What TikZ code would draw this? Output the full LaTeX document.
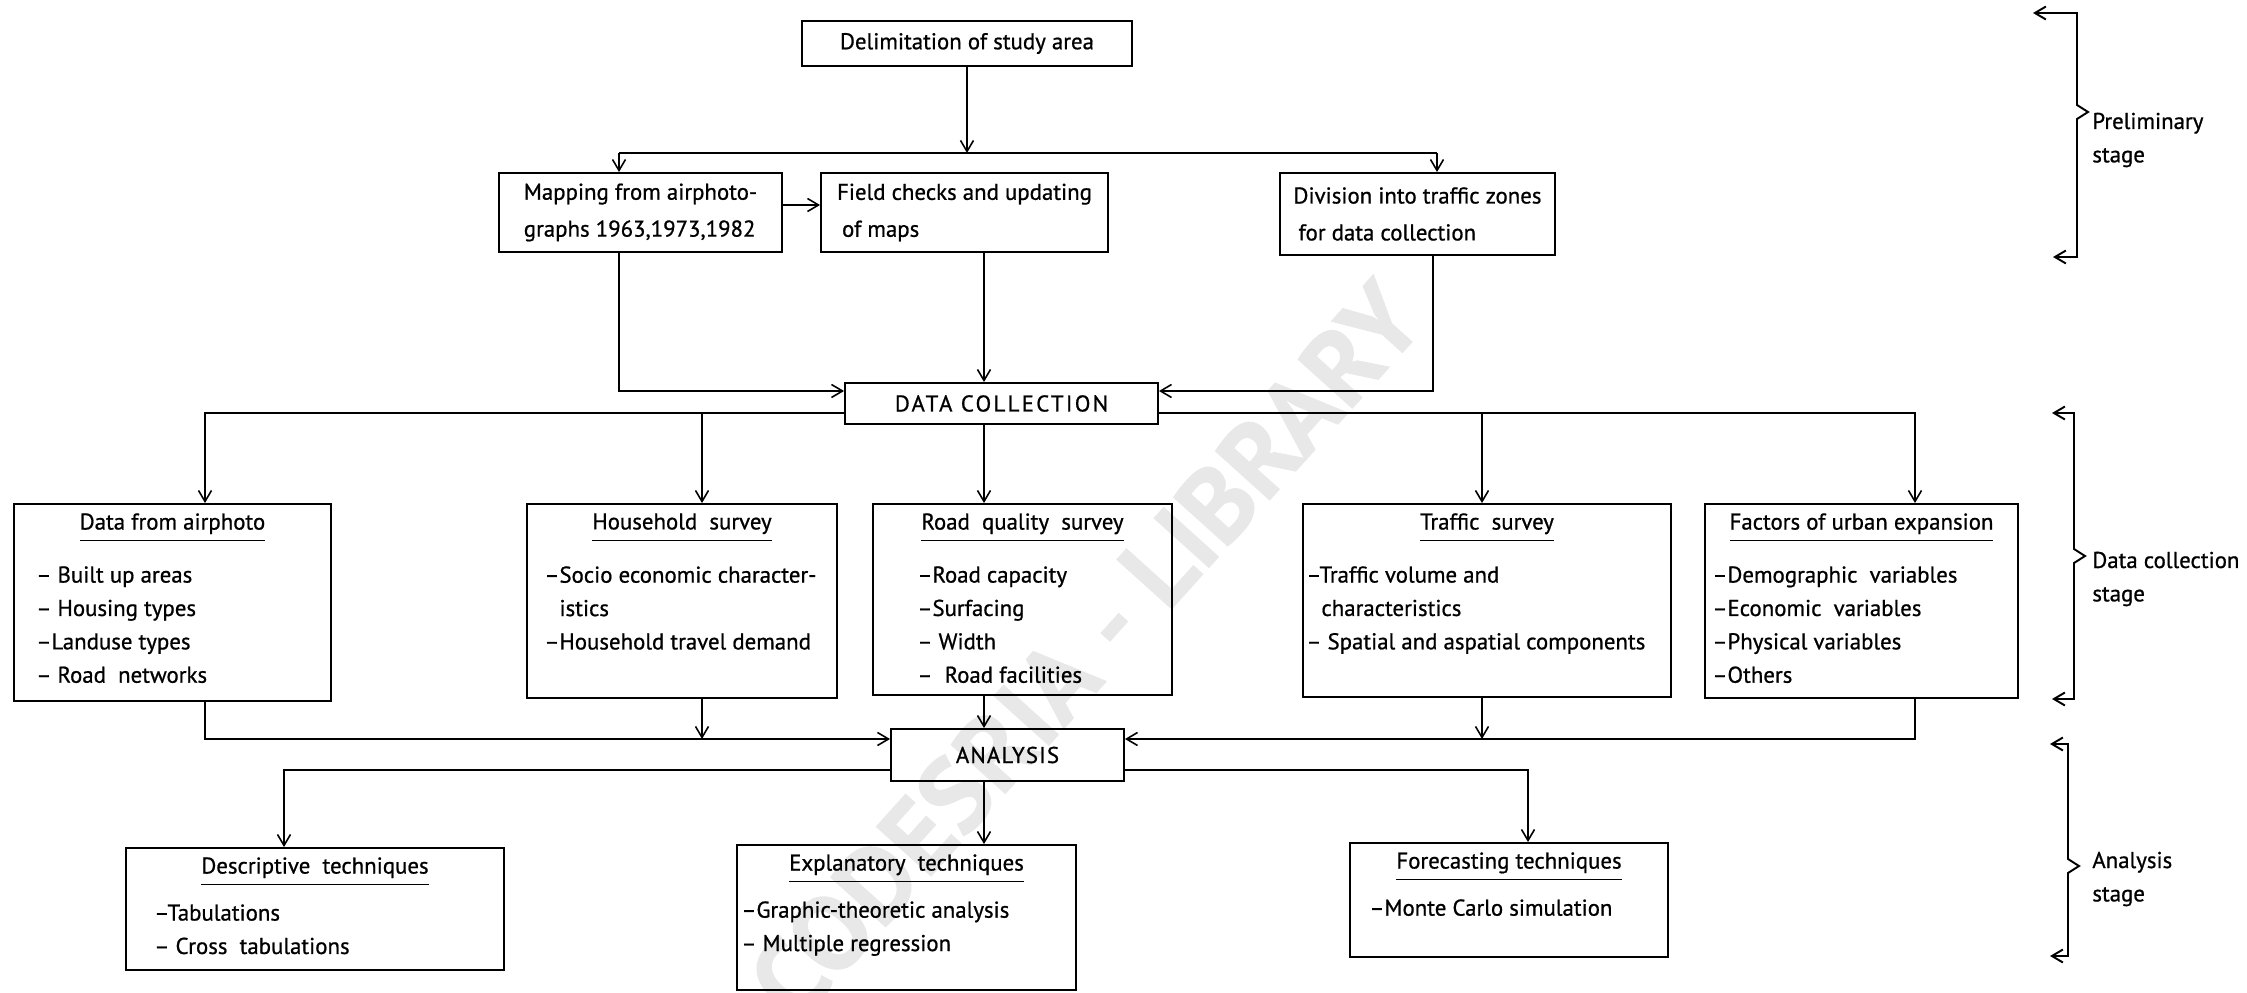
\documentclass[tikz,border=0pt]{standalone}
\usepackage{fontspec}
\setmainfont{PT Sans}[FakeBold=0.8]
\usetikzlibrary{positioning, arrows.meta, fit}

% underlined box headings
\newcommand{\hd}[1]{\underline{\rule[-5pt]{0pt}{5pt}#1}}

\begin{document}
\begin{tikzpicture}[
    x=0.2mm, y=-0.2mm,
    every node/.style={font=\fontsize{13}{19}\selectfont},
    box/.style={draw, line width=1.1pt, inner sep=0pt},
    head/.style={inner sep=0pt},
    items/.style={align=left, inner sep=0pt},
    arrow/.style={-{Straight Barb[length=2.2mm,width=2.6mm]}, line width=0.9pt},
    link/.style={line width=0.9pt},
    bracket/.style={{Straight Barb[length=2.2mm,width=2.6mm]}-{Straight Barb[length=2.2mm,width=2.6mm]}, line width=1.1pt},
    stage/.style={align=left, anchor=west, inner sep=0pt}
]
\useasboundingbox (0,0) rectangle (2247,993);

% watermark
\node[rotate=48, text=black!9, font=\fontsize{60}{60}\selectfont\bfseries] (mark) at (1085,650) {CODESRIA - LIBRARY};

% bus lines
\coordinate (top-bus) at (0,153);
\coordinate (dc-in) at (0,391);
\coordinate (dc-bus) at (0,413);
\coordinate (an-in) at (0,739);
\coordinate (an-bus) at (0,770);
\coordinate (dc-x) at (984,0);

% preliminary stage
\node[box, minimum width=66mm, minimum height=9mm] (delim) at (967,43.5) {Delimitation of study area};
\node[box, minimum width=56.6mm, minimum height=15.8mm, align=left] (map) at (640.5,212.5) {Mapping from airphoto-\\[2pt]graphs 1963,1973,1982};
\node[box, minimum width=57.4mm, minimum height=15.8mm, align=left] (field) at (964.5,212.5) {Field checks and updating\\[2pt]\hspace{1mm}of maps};
\node[box, minimum width=55mm, minimum height=16.4mm, align=left] (div) at (1417.5,214) {Division into traffic zones\\[2pt]\hspace{1mm}for data collection};

\node[box, minimum width=62.6mm, minimum height=8.2mm] (dc) at (1001.5,403.5) {\addfontfeature{LetterSpace=10}DATA COLLECTION};

\draw[arrow] (delim.south) -- (delim.south |- top-bus);
\draw[link] (top-bus -| 619,0) -- (top-bus -| 1437,0);
\draw[arrow] (top-bus -| 619,0) -- (map.north -| 619,0);
\draw[arrow] (top-bus -| 1437,0) -- (div.north -| 1437,0);
\draw[arrow] (map.east |- 0,205) -- (field.west |- 0,205);
\draw[arrow] (map.south -| 619,0) |- (dc.west |- dc-in);
\draw[arrow] (field.south -| dc-x) -- (dc.north -| dc-x);
\draw[arrow] (div.south -| 1433,0) |- (dc.east |- dc-in);

% data collection stage
\node[box, fit={(14,504)(331,701)}] (air) {};
\node[head, below=2mm of air.north] (air-h) {\hd{Data from airphoto}};
\node[items, below right=12.6mm and 4.6mm of air.north west] (air-l) {– Built up areas\\– Housing types\\–Landuse types\\– Road\ \ networks};

\node[box, fit={(527,504)(837,698)}] (hh) {};
\node[head, below=2mm of hh.north] (hh-h) {\hd{Household\ \ survey}};
\node[items, below right=12.6mm and 3.6mm of hh.north west] (hh-l) {–Socio economic character-\\\phantom{–}istics\\–Household travel demand};

\node[box, fit={(873,504)(1172,695)}] (road) {};
\node[head, below=2mm of road.north] (road-h) {\hd{Road\ \ quality\ \ survey}};
\node[items, below right=12.6mm and 9mm of road.north west] (road-l) {–Road capacity\\–Surfacing\\– Width\\–\ \ Road facilities};

\node[box, fit={(1303,504)(1671,697)}] (traf) {};
\node[head, below=2mm of traf.north] (traf-h) {\hd{Traffic\ \ survey}};
\node[items, below right=12.6mm and 0.8mm of traf.north west] (traf-l) {–Traffic volume and\\\phantom{–}characteristics\\– Spatial and aspatial components};

\node[box, fit={(1705,504)(2018,698)}] (fac) {};
\node[head, below=2mm of fac.north] (fac-h) {\hd{Factors of urban expansion}};
\node[items, below right=12.6mm and 1.6mm of fac.north west] (fac-l) {–Demographic\ \ variables\\–Economic\ \ variables\\–Physical variables\\–Others};

\node[box, minimum width=46.6mm, minimum height=10.4mm] (ana) at (1007.5,755) {\addfontfeature{LetterSpace=5}ANALYSIS};

\draw[arrow] (dc.west |- dc-bus) -| (air.north -| 205,0);
\draw[arrow] (dc.east |- dc-bus) -| (fac.north -| 1915,0);
\draw[arrow] (dc-bus -| 702,0) -- (hh.north -| 702,0);
\draw[arrow] (dc.south -| dc-x) -- (road.north -| dc-x);
\draw[arrow] (dc-bus -| 1482,0) -- (traf.north -| 1482,0);

\draw[arrow] (air.south -| 205,0) |- (ana.west |- an-in);
\draw[arrow] (fac.south -| 1915,0) |- (ana.east |- an-in);
\draw[arrow] (hh.south -| 702,0) -- (an-in -| 702,0);
\draw[arrow] (traf.south -| 1482,0) -- (an-in -| 1482,0);
\draw[arrow] (road.south -| dc-x) -- (ana.north -| dc-x);

% analysis stage
\node[box, fit={(126,848)(504,970)}] (desc) {};
\node[head, below=2mm of desc.north] (desc-h) {\hd{Descriptive\ \ techniques}};
\node[items, below right=11.4mm and 5.8mm of desc.north west] (desc-l) {–Tabulations\\– Cross\ \ tabulations};

\node[box, fit={(737,845)(1076,990)}] (expl) {};
\node[head, below=2mm of expl.north] (expl-h) {\hd{Explanatory\ \ techniques}};
\node[items, below right=11.4mm and 1mm of expl.north west] (expl-l) {–Graphic-theoretic analysis\\– Multiple regression};

\node[box, fit={(1350,843)(1668,957)}] (fore) {};
\node[head, below=2mm of fore.north] (fore-h) {\hd{Forecasting techniques}};
\node[items, below right=11.4mm and 4mm of fore.north west] (fore-l) {–Monte Carlo simulation};

\draw[arrow] (ana.west |- an-bus) -| (desc.north -| 284,0);
\draw[arrow] (ana.east |- an-bus) -| (fore.north -| 1528,0);
\draw[arrow] (ana.south -| dc-x) -- (expl.north -| dc-x);

% stage brackets
\draw[bracket] (2033,13) -- (2077,13) -- (2077,105) -- (2088,112) -- (2077,119) -- (2077,257) -- (2053,257);
\node[stage] (pre-lbl) at (2092,140) {Preliminary\\stage};

\draw[bracket] (2052,413) -- (2074,413) -- (2074,549) -- (2085,556) -- (2074,563) -- (2074,699) -- (2052,699);
\node[stage] (dcs-lbl) at (2092,579) {Data collection\\stage};

\draw[bracket] (2050,744) -- (2068,744) -- (2068,859) -- (2079,866) -- (2068,873) -- (2068,956) -- (2050,956);
\node[stage] (ans-lbl) at (2092,879) {Analysis\\stage};

\end{tikzpicture}
\end{document}
